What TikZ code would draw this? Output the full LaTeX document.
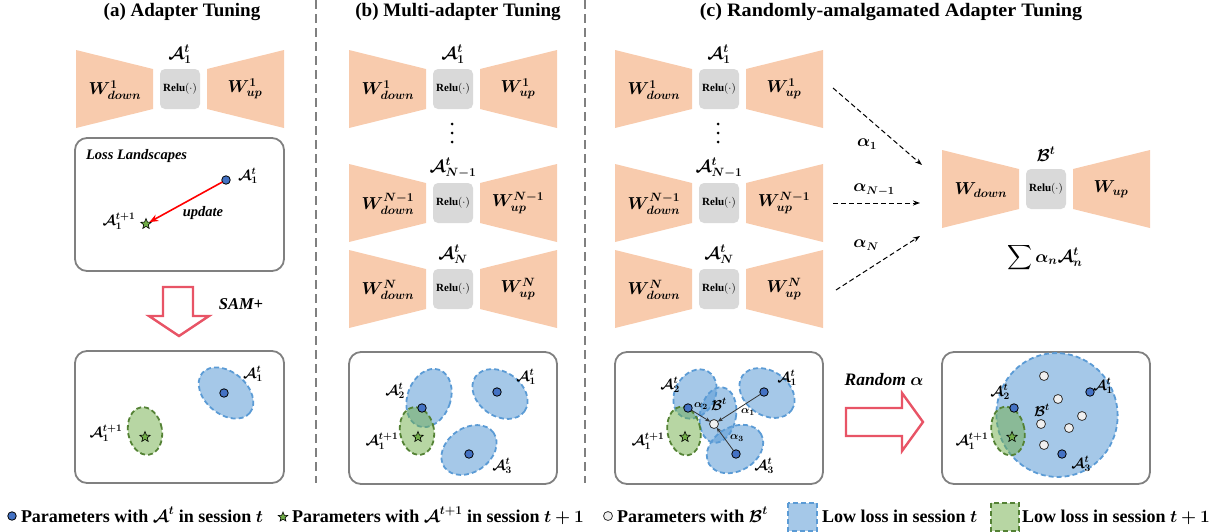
\documentclass[tikz,border=0pt]{standalone}
\usepackage{fontspec}
\setmainfont{Liberation Serif}
\usepackage{amsmath}
\usepackage{bm}
\usetikzlibrary{shapes.geometric,arrows.meta}
\definecolor{peach}{RGB}{248,203,173}
\definecolor{relugray}{RGB}{217,217,217}
\definecolor{boxgray}{RGB}{128,128,128}
\definecolor{lossblue}{RGB}{91,155,213}
\definecolor{dotblue}{RGB}{68,114,196}
\definecolor{lossgreen}{RGB}{112,173,71}
\definecolor{darkgreen}{RGB}{84,130,53}
\definecolor{samred}{RGB}{232,84,102}
\newcommand{\cA}[2]{\bm{\mathcal{A}_{#1}^{#2}}}
\newcommand{\cB}{\bm{\mathcal{B}^{t}}}
\newcommand{\adapter}[6]{%
  \fill[peach] (#2-104,#3-39) -- (#2-27,#3-20) -- (#2-27,#3+20) -- (#2-104,#3+39) -- cycle;
  \fill[peach] (#2+104,#3-39) -- (#2+27,#3-20) -- (#2+27,#3+20) -- (#2+104,#3+39) -- cycle;
  \node[relubox] (#1r) at (#2,#3) {\bfseries Relu$(\cdot)$};
  \node[wlab] (#1d) at (#2-65,#3+1) {$\bm{#4}$};
  \node[wlab] (#1u) at (#2+65,#3) {$\bm{#5}$};
  \node[toplab] (#1t) at (#2,#3-35) {$#6$};
}
\newcommand{\vdotsat}[1]{%
  \fill (#1,124) circle (1.5);
  \fill (#1,133) circle (1.5);
  \fill (#1,142) circle (1.5);
}
\tikzset{
  every node/.style={inner sep=0pt, outer sep=0pt},
  relubox/.style={rectangle, rounded corners=5pt, fill=relugray, minimum width=40pt, minimum height=40pt, font=\fontsize{11}{11}\selectfont},
  wlab/.style={font=\fontsize{16.5}{16.5}\selectfont},
  toplab/.style={font=\fontsize{16.5}{16.5}\selectfont},
  lossbox/.style={draw=boxgray, line width=1.8pt, rounded corners=12pt},
  bell/.style={ellipse, draw=lossblue, line width=1.8pt, dash pattern=on 5pt off 3pt, fill=lossblue, fill opacity=0.55},
  gell/.style={ellipse, draw=darkgreen, line width=1.8pt, dash pattern=on 5pt off 3pt, fill=lossgreen, fill opacity=0.5},
  bdot/.style={circle, fill=dotblue, draw=black, line width=0.8pt, minimum size=8.5pt},
  wdot/.style={circle, fill=black!6, draw=black!80, line width=0.8pt, minimum size=9pt},
  gstar/.style={star, star points=5, star point ratio=2.3, fill=lossgreen, draw=black, line width=0.6pt, minimum size=11pt},
  lab/.style={font=\fontsize{14.5}{14.5}\selectfont},
  smalllab/.style={font=\fontsize{11}{11}\selectfont},
  ttl/.style={font=\fontsize{19}{19}\selectfont\bfseries},
  bitext/.style={font=\fontsize{14.5}{14.5}\selectfont\bfseries\itshape},
  legtxt/.style={font=\fontsize{18}{18}\selectfont\bfseries, anchor=base west},
  hollow/.style={draw=samred, line width=2.4pt, fill=white, line join=miter},
  dasharrow/.style={dash pattern=on 5pt off 3pt, line width=1pt, -{Stealth[length=7pt,width=5pt]}},
  smallarr/.style={draw=black!80, line width=0.8pt, -{Stealth[length=5pt,width=4pt]}},
  sepline/.style={draw=boxgray, line width=2pt, dash pattern=on 9pt off 5pt},
}
\begin{document}
\begin{tikzpicture}[x=1pt,y=-1pt]
\useasboundingbox (0,0) rectangle (1223,531);

% separators
\draw[sepline] (316,0) -- (316,483);
\draw[sepline] (585,0) -- (585,483);

% titles
\node[ttl] (ta) at (182,12) {(a) Adapter Tuning};
\node[ttl] (tb) at (458,12) {(b) Multi-adapter Tuning};
\node[ttl] (tc) at (891,12) {\scalebox{1.06}[1]{(c) Randomly-amalgamated Adapter Tuning}};

% ---------------- (a)
\adapter{a1}{180}{89}{W^{1}_{down}}{W^{1}_{up}}{\cA{1}{t}}
\draw[lossbox] (75,138) rectangle (284,271);
\node[bitext, anchor=west] (ll) at (86,156) {Loss Landscapes};
\node[bdot] (ad) at (226,180) {};
\node[lab] (adl) at (248,176) {$\cA{1}{t}$};
\node[gstar] (as) at (146,224) {};
\node[lab] (asl) at (119,221) {$\cA{1}{t+1}$};
\draw[red, line width=1.6pt, -{Stealth[length=9pt,width=7pt]}] (ad) -- (as);
\node[bitext] (upd) at (203,213) {update};

\draw[hollow] (163,287) -- (193,287) -- (193,316) -- (209,316) -- (179,336) -- (149,316) -- (163,316) -- cycle;
\node[font=\fontsize{16.5}{16.5}\selectfont\bfseries\itshape] (sam) at (241,304) {SAM+};

\draw[lossbox] (75,351) rectangle (284,483);
\node[bell, minimum width=62pt, minimum height=42pt, rotate=-40] (ae1) at (226,393) {};
\node[gell, minimum width=34pt, minimum height=48pt, rotate=10] (aeg) at (145,431) {};
\node[bdot] (abd) at (224,393) {};
\node[gstar] (abs) at (145,437) {};
\node[lab] (abl1) at (253,374) {$\cA{1}{t}$};
\node[lab] (abl2) at (106,433) {$\cA{1}{t+1}$};

% ---------------- (b)
\adapter{b1}{453}{89}{W^{1}_{down}}{W^{1}_{up}}{\cA{1}{t}}
\vdotsat{452}
\adapter{b2}{453}{203}{W^{N-1}_{down}}{W^{N-1}_{up}}{\cA{N-1}{t}}
\adapter{b3}{453}{289}{W^{N}_{down}}{W^{N}_{up}}{\cA{N}{t}}

\draw[lossbox] (349,352) rectangle (557,484);
\node[bell, minimum width=43pt, minimum height=60pt, rotate=-20] (be2) at (429,398) {};
\node[bell, minimum width=60pt, minimum height=44pt, rotate=-35] (be1) at (500,394) {};
\node[bell, minimum width=60pt, minimum height=44pt, rotate=35] (be3) at (469,450) {};
\node[gell, minimum width=34pt, minimum height=48pt, rotate=10] (beg) at (417,431) {};
\node[bdot] (bd2) at (422,408) {};
\node[bdot] (bd1) at (497,392) {};
\node[bdot] (bd3) at (469,454) {};
\node[gstar] (bs) at (418,437) {};
\node[lab] (bl2) at (395,391) {$\cA{2}{t}$};
\node[lab] (bl1) at (526,377) {$\cA{1}{t}$};
\node[lab] (bl3) at (502,466) {$\cA{3}{t}$};
\node[lab] (blg) at (382,441) {$\cA{1}{t+1}$};

% ---------------- (c)
\adapter{c1}{719}{89}{W^{1}_{down}}{W^{1}_{up}}{\cA{1}{t}}
\vdotsat{718}
\adapter{c2}{719}{203}{W^{N-1}_{down}}{W^{N-1}_{up}}{\cA{N-1}{t}}
\adapter{c3}{719}{289}{W^{N}_{down}}{W^{N}_{up}}{\cA{N}{t}}
\adapter{bb}{1046}{189}{W_{down}}{W_{up}}{\cB}
\node[font=\fontsize{17}{17}\selectfont] (sum) at (1045,258) {$\displaystyle\sum \bm{\alpha_n}\cA{n}{t}$};

\coordinate (s1) at (833,88);
\coordinate (e1) at (922,165);
\coordinate (s2) at (833,203);
\coordinate (e2) at (920,203);
\coordinate (s3) at (836,290);
\coordinate (e3) at (920,236);
\draw[dasharrow] (s1) -- (e1);
\draw[dasharrow] (s2) -- (e2);
\draw[dasharrow] (s3) -- (e3);
\node[font=\fontsize{16}{16}\selectfont] (al1) at (867,144) {$\bm{\alpha_1}$};
\node[font=\fontsize{16}{16}\selectfont] (al2) at (874,190) {$\bm{\alpha_{N-1}}$};
\node[font=\fontsize{16}{16}\selectfont] (al3) at (866,245) {$\bm{\alpha_N}$};

% (c) left box
\draw[lossbox] (615,352) rectangle (823,484);
\node[bell, minimum width=40pt, minimum height=52pt, rotate=-30] (ce2) at (695,394) {};
\node[bell, minimum width=36pt, minimum height=56pt, rotate=-10] (ceb) at (718,415) {};
\node[bell, minimum width=60pt, minimum height=44pt, rotate=-35] (ce1) at (767,393) {};
\node[bell, minimum width=60pt, minimum height=44pt, rotate=30] (ce3) at (735,449) {};
\node[gell, minimum width=33pt, minimum height=49pt, rotate=10] (ceg) at (684,431) {};
\node[bdot] (cd2) at (688,408) {};
\node[bdot] (cd1) at (764,392) {};
\node[bdot] (cd3) at (736,454) {};
\node[wdot] (cw) at (714,424) {};
\node[gstar] (cs) at (685,437) {};
\draw[smallarr] (cd2) -- (cw);
\draw[smallarr] (cd1) -- (cw);
\draw[smallarr] (cd3) -- (cw);
\node[smalllab] (ca2) at (701,406) {$\bm{\alpha_2}$};
\node[font=\fontsize{14}{14}\selectfont] (cbl) at (719,404) {$\cB$};
\node[smalllab] (ca1) at (748,412) {$\bm{\alpha_1}$};
\node[smalllab] (ca3) at (737,438) {$\bm{\alpha_3}$};
\node[lab] (cl2) at (670,385) {$\cA{2}{t}$};
\node[lab] (cl1) at (787,378) {$\cA{1}{t}$};
\node[lab] (cl3) at (764,466) {$\cA{3}{t}$};
\node[lab] (clg) at (648,441) {$\cA{1}{t+1}$};

% random arrow
\draw[hollow] (846,408) -- (902,408) -- (902,393) -- (923,422) -- (902,451) -- (902,436) -- (846,436) -- cycle;
\node[font=\fontsize{17.5}{17.5}\selectfont\bfseries\itshape] (rnd) at (884,380) {Random $\bm{\alpha}$};

% (c) right box
\draw[lossbox] (942,352) rectangle (1150,484);
\node[bell, minimum width=121pt, minimum height=124pt, rotate=15] (cbig) at (1057,415) {};
\node[gell, minimum width=33pt, minimum height=49pt, rotate=10] (crg) at (1008,431) {};
\node[bdot] (rd2) at (1014,408) {};
\node[bdot] (rd1) at (1090,392) {};
\node[bdot] (rd3) at (1062,454) {};
\node[wdot] (rw1) at (1044,376) {};
\node[wdot] (rw2) at (1058,399) {};
\node[wdot] (rw3) at (1082,416) {};
\node[wdot] (rw4) at (1041,424) {};
\node[wdot] (rw5) at (1069,428) {};
\node[wdot] (rw6) at (1044,445) {};
\node[gstar] (rs) at (1012,437) {};
\node[lab] (rl2) at (1000,392) {$\cA{2}{t}$};
\node[font=\fontsize{14}{14}\selectfont] (rlb) at (1042,410) {$\cB$};
\node[lab] (rl1) at (1103,386) {$\cA{1}{t}$};
\node[lab] (rl3) at (1081,464) {$\cA{3}{t}$};
\node[lab] (rlg) at (972,441) {$\cA{1}{t+1}$};

% ---------------- legend
\node[bdot] (lg1) at (12,516) {};
\node[legtxt] (lt1) at (21,522) {Parameters with $\bm{\mathcal{A}^{t}}$ in session $\bm{t}$};
\node[gstar, minimum size=10pt] (lg2) at (283,517) {};
\node[legtxt] (lt2) at (292,522) {Parameters with $\bm{\mathcal{A}^{t+1}}$ in session $\bm{t+1}$};
\node[wdot] (lg3) at (608,516) {};
\node[legtxt] (lt3) at (617,522) {Parameters with $\cB$};
\draw[draw=lossblue, line width=1.8pt, dash pattern=on 5pt off 3pt, fill=lossblue, fill opacity=0.55] (788,503) rectangle (817,531);
\node[legtxt] (lt4) at (822,522) {Low loss in session $\bm{t}$};
\draw[draw=darkgreen, line width=1.8pt, dash pattern=on 5pt off 3pt, fill=lossgreen, fill opacity=0.5] (991,503) rectangle (1019,531);
\node[legtxt] (lt5) at (1022,522) {Low loss in session $\bm{t+1}$};
\end{tikzpicture}
\end{document}
